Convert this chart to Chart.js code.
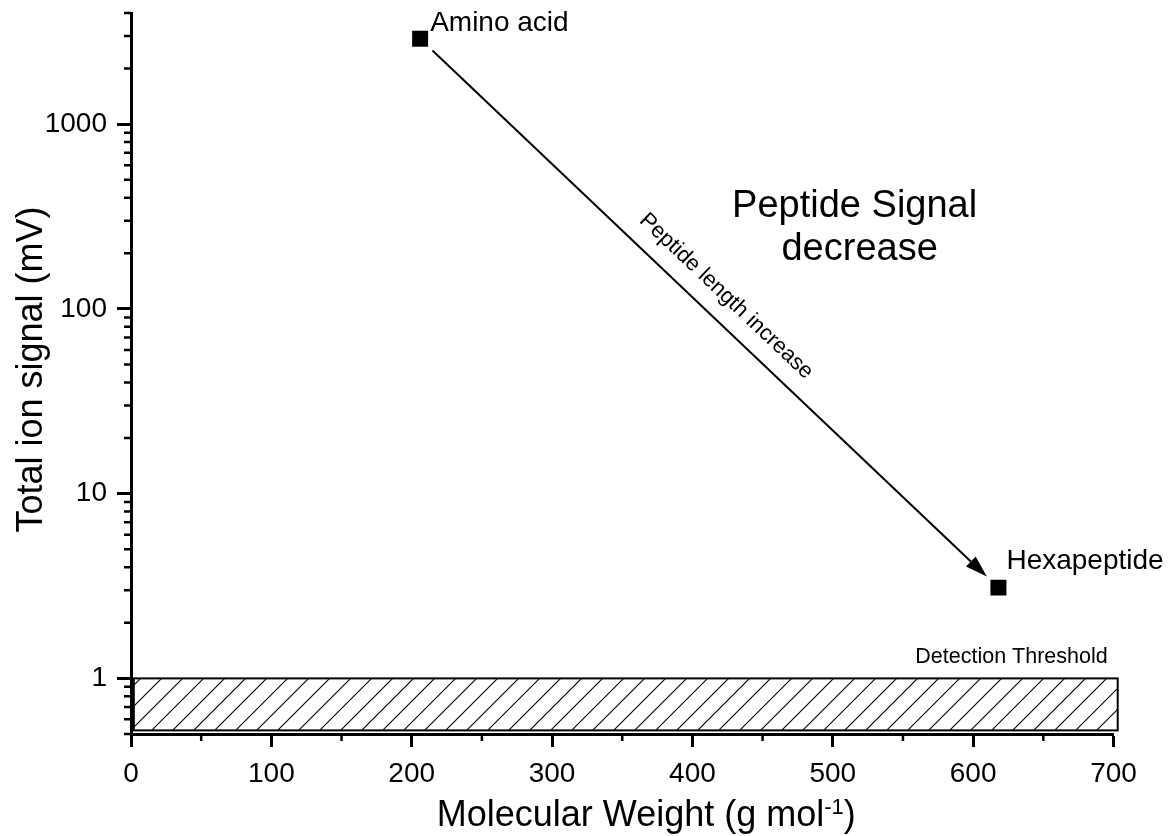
<!DOCTYPE html>
<html>
<head>
<meta charset="utf-8">
<script src="https://cdn.jsdelivr.net/npm/chart.js@4.4.0/dist/chart.umd.min.js"></script>
<style>
  html, body { margin: 0; padding: 0; background: #fff; }
</style>
</head>
<body>
<canvas id="ionChart" width="1172" height="836"></canvas>
<script>
// values
const compounds = ['Amino acid', 'Hexapeptide'];
const molWeight = [206, 618];
const ionSignal = [2900, 3.1];

const xTickValues = [0, 100, 200, 300, 400, 500, 600, 700];
const yTickValues = [1, 10, 100, 1000];

// detection threshold band (x range, y range)
const thresholdWeight = [2, 703];
const thresholdSignal = [0.523, 1];

const FONT = '"Liberation Sans", Arial, Helvetica, sans-serif';

function hatchPattern(ctx) {
    const size = 21;
    const p = document.createElement('canvas');
    p.width = size; p.height = size;
    const c = p.getContext('2d');
    c.strokeStyle = '#000';
    c.lineWidth = 1.1;
    c.beginPath();
    c.moveTo(0, size); c.lineTo(size, 0);
    c.moveTo(-2, 2); c.lineTo(2, -2);
    c.moveTo(size - 2, size + 2); c.lineTo(size + 2, size - 2);
    c.stroke();
    return ctx.createPattern(p, 'repeat');
}

// minor ticks, threshold band, arrow and the text annotations
const extras = {
    id: 'extras',
    afterDraw(chart) {
        const ctx = chart.ctx;
        const xs = chart.scales.x;
        const ys = chart.scales.y;
        const area = chart.chartArea;
        ctx.save();

        // minor ticks
        ctx.strokeStyle = '#000';
        ctx.lineWidth = 2.5;
        ctx.beginPath();
        for (let v = 50; v < 700; v += 100) {
            const px = xs.getPixelForValue(v);
            ctx.moveTo(px, area.bottom); ctx.lineTo(px, area.bottom + 7);
        }
        for (let d = 0.1; d <= 1000; d *= 10) {
            for (let m = 2; m <= 9; m++) {
                const v = m * d;
                if (v < ys.min - 1e-9 || v > ys.max + 1e-9) continue;
                const py = ys.getPixelForValue(v);
                ctx.moveTo(area.left, py); ctx.lineTo(area.left - 7, py);
            }
        }
        ctx.stroke();

        // threshold band
        const bx0 = xs.getPixelForValue(thresholdWeight[0]);
        const bx1 = xs.getPixelForValue(thresholdWeight[1]);
        const by0 = ys.getPixelForValue(thresholdSignal[1]);
        const by1 = ys.getPixelForValue(thresholdSignal[0]);
        ctx.fillStyle = hatchPattern(ctx);
        ctx.fillRect(bx0, by0, bx1 - bx0, by1 - by0);
        ctx.lineWidth = 2;
        ctx.strokeRect(bx0, by0, bx1 - bx0, by1 - by0);
        ctx.fillStyle = '#000';
        ctx.font = '21.5px ' + FONT;
        ctx.textAlign = 'right';
        ctx.textBaseline = 'alphabetic';
        ctx.fillText('Detection Threshold', bx1 - 10, by0 - 15);

        // arrow between the two points
        const p0 = { x: xs.getPixelForValue(molWeight[0]), y: ys.getPixelForValue(ionSignal[0]) };
        const p1 = { x: xs.getPixelForValue(molWeight[1]), y: ys.getPixelForValue(ionSignal[1]) };
        const dx = p1.x - p0.x, dy = p1.y - p0.y;
        const len = Math.hypot(dx, dy);
        const ux = dx / len, uy = dy / len;
        const s = { x: p0.x + ux * 17, y: p0.y + uy * 17 };
        const e = { x: p1.x - ux * 16, y: p1.y - uy * 16 };
        const head = 22, half = 7;
        ctx.lineWidth = 2;
        ctx.beginPath();
        ctx.moveTo(s.x, s.y);
        ctx.lineTo(e.x - ux * head, e.y - uy * head);
        ctx.stroke();
        ctx.beginPath();
        ctx.moveTo(e.x, e.y);
        ctx.lineTo(e.x - ux * head - uy * half, e.y - uy * head + ux * half);
        ctx.lineTo(e.x - ux * head + uy * half, e.y - uy * head - ux * half);
        ctx.closePath();
        ctx.fill();

        // label along the arrow
        const mx = (s.x + e.x) / 2 + uy * 24;
        const my = (s.y + e.y) / 2 - ux * 24;
        ctx.save();
        ctx.translate(mx, my);
        ctx.rotate(Math.atan2(dy, dx));
        ctx.font = '22px ' + FONT;
        ctx.textAlign = 'center';
        ctx.textBaseline = 'middle';
        ctx.fillText('Peptide length increase', 0, 0);
        ctx.restore();

        // point labels
        ctx.font = '28px ' + FONT;
        ctx.textAlign = 'left';
        ctx.textBaseline = 'alphabetic';
        ctx.fillText(compounds[0], p0.x + 10, p0.y - 8);
        ctx.fillText(compounds[1], p1.x + 8, p1.y - 19);

        // big note
        ctx.font = '38px ' + FONT;
        ctx.textAlign = 'center';
        const nx = xs.getPixelForValue(517);
        const ny = ys.getPixelForValue(314);
        ctx.fillText('Peptide Signal', nx - 2, ny);
        ctx.fillText('decrease', nx + 3, ny + 43);

        // y title
        ctx.save();
        ctx.translate(42, (area.top + area.bottom) / 2 - 4);
        ctx.rotate(-Math.PI / 2);
        ctx.font = '36px ' + FONT;
        ctx.textAlign = 'center';
        ctx.fillText('Total ion signal (mV)', 0, 0);
        ctx.restore();

        // x title with superscript
        const main = 'Molecular Weight (g mol';
        ctx.font = '36px ' + FONT;
        const w1 = ctx.measureText(main).width;
        const w3 = ctx.measureText(')').width;
        ctx.font = '22px ' + FONT;
        const w2 = ctx.measureText('-1').width;
        let tx = (area.left + area.right) / 2 + 24 - (w1 + w2 + w3) / 2;
        const tb = 826;
        ctx.textAlign = 'left';
        ctx.font = '36px ' + FONT;
        ctx.fillText(main, tx, tb);
        tx += w1;
        ctx.font = '22px ' + FONT;
        ctx.fillText('-1', tx, tb - 12);
        tx += w2;
        ctx.font = '36px ' + FONT;
        ctx.fillText(')', tx, tb);

        ctx.restore();
    }
};

new Chart(document.getElementById('ionChart').getContext('2d'), {
    type: 'scatter',
    data: {
        datasets: [{
            label: 'Total ion signal',
            data: molWeight.map((w, i) => ({ x: w, y: ionSignal[i] })),
            pointStyle: 'rect',
            pointRadius: 11.3,
            pointBorderWidth: 0,
            backgroundColor: '#000',
            borderColor: '#000'
        }]
    },
    options: {
        responsive: false,
        animation: false,
        layout: { padding: { left: 0, right: 58.5, top: 13, bottom: 0 } },
        plugins: {
            legend: { display: false },
            tooltip: { enabled: false }
        },
        scales: {
            x: {
                type: 'linear',
                min: 0,
                max: 700,
                afterBuildTicks: axis => { axis.ticks = xTickValues.map(v => ({ value: v })); },
                afterFit: axis => {
                    axis.height = 102;
                    axis.paddingLeft = 0;
                    axis.paddingRight = 0;
                },
                ticks: {
                    color: '#000',
                    font: { family: FONT, size: 28 },
                    padding: 10,
                    maxRotation: 0,
                    callback: v => String(v)
                },
                grid: { drawOnChartArea: false, drawTicks: true, tickLength: 13, tickWidth: 3, tickColor: '#000' },
                border: { display: true, width: 3, color: '#000' }
            },
            y: {
                type: 'logarithmic',
                min: 0.5,
                max: 4000,
                afterBuildTicks: axis => { axis.ticks = yTickValues.map(v => ({ value: v })); },
                afterFit: axis => {
                    axis.width = 131;
                    axis.paddingTop = 0;
                    axis.paddingBottom = 0;
                },
                ticks: {
                    color: '#000',
                    font: { family: FONT, size: 28 },
                    padding: 10,
                    callback: v => String(v)
                },
                grid: { drawOnChartArea: false, drawTicks: true, tickLength: 14, tickWidth: 3, tickColor: '#000' },
                border: { display: true, width: 3, color: '#000' }
            }
        }
    },
    plugins: [extras]
});
</script>
</body>
</html>
